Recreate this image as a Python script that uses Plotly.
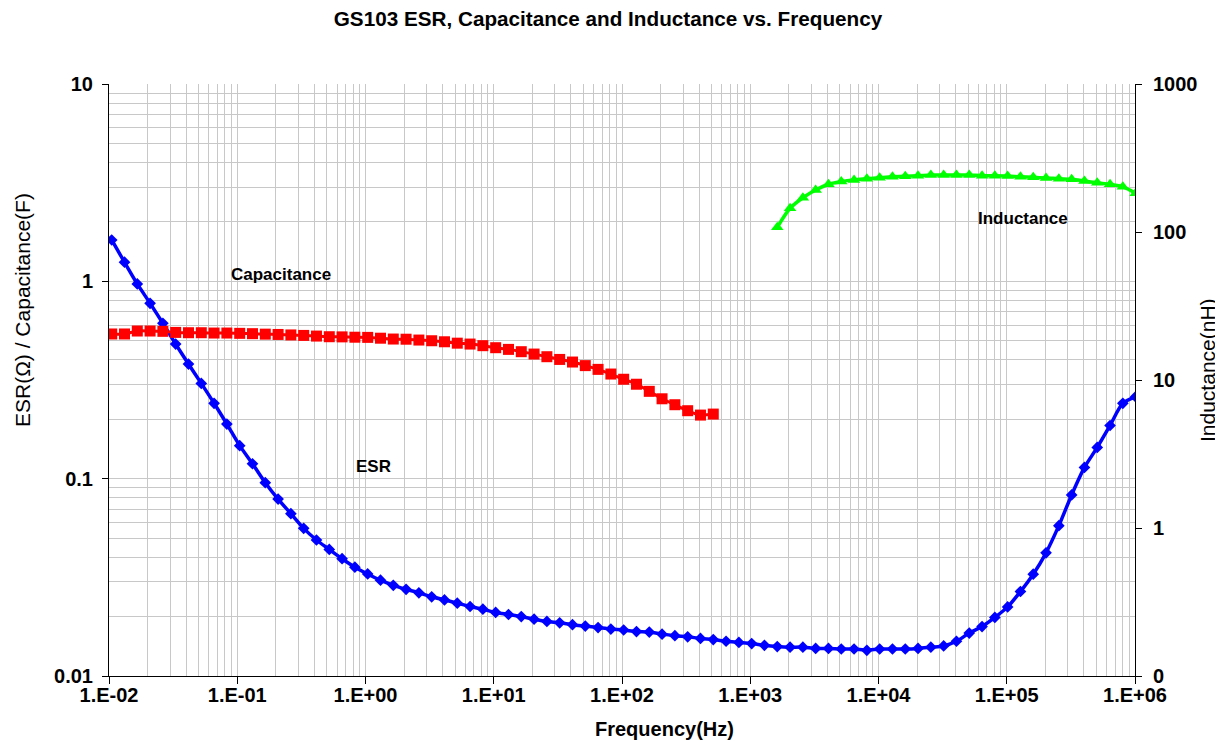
import math
import plotly.graph_objects as go

# ---------------- data ----------------
FREQ = [
    0.0105, 0.01321, 0.01662, 0.02091, 0.02631, 0.03311, 0.04166, 0.05243, 0.06597, 0.0830,
    0.1045, 0.1315, 0.1654, 0.2082, 0.2619, 0.3296, 0.4147, 0.5219, 0.6567, 0.8264,
    1.040, 1.309, 1.647, 2.072, 2.608, 3.281, 4.129, 5.196, 6.538, 8.227,
    10.35, 13.03, 16.39, 20.63, 25.96, 32.66, 41.10, 51.72, 65.08, 81.89,
    103.0, 129.7, 163.2, 205.3, 258.4, 325.1, 409.1, 514.8, 647.8, 815.2,
    1026, 1290, 1624, 2044, 2572, 3236, 4072, 5124, 6448, 8114,
    10210, 12850, 16170, 20340, 25600, 32210, 40530, 51000, 64180, 80760,
    101600, 127900, 160900, 202500, 254800, 320600, 403500, 507700, 638900, 803900,
    1012000,
]

ESR = [
    1.62, 1.25, 0.97, 0.774, 0.613, 0.481, 0.381, 0.304, 0.241, 0.189,
    0.147, 0.119, 0.0954, 0.0788, 0.0665, 0.0560, 0.0489, 0.0438, 0.0393, 0.0356,
    0.0329, 0.0306, 0.0288, 0.0275, 0.0264, 0.0252, 0.0243, 0.0234, 0.0225, 0.0218,
    0.0210, 0.0205, 0.0200, 0.0194, 0.0189, 0.0186, 0.0182, 0.0179, 0.0176, 0.0173,
    0.0171, 0.0168, 0.0167, 0.0163, 0.0160, 0.0158, 0.0155, 0.0153, 0.0150, 0.0148,
    0.0146, 0.0143, 0.0141, 0.0140, 0.0140, 0.0138, 0.0138, 0.0137, 0.0137, 0.0135,
    0.0137, 0.0137, 0.0137, 0.0138, 0.0140, 0.0142, 0.0150, 0.0165, 0.0178, 0.0198,
    0.0224, 0.0268, 0.0328, 0.0421, 0.0578, 0.0827, 0.114, 0.144, 0.186, 0.241,
    0.260,
]

CAP = [
    0.541, 0.541, 0.560, 0.560, 0.558, 0.551, 0.549, 0.549, 0.547, 0.547,
    0.545, 0.543, 0.540, 0.538, 0.535, 0.532, 0.528, 0.524, 0.523, 0.521,
    0.520, 0.515, 0.510, 0.509, 0.504, 0.500, 0.494, 0.486, 0.481, 0.472,
    0.461, 0.452, 0.440, 0.428, 0.415, 0.402, 0.390, 0.374, 0.358, 0.339,
    0.319, 0.301, 0.277, 0.254, 0.237, 0.221, 0.210, 0.2125,
]

IND = [
    107.6, 144.6, 170.5, 192.2, 210.1, 219.0, 225.0, 229.0, 233.0, 236.0,
    238.0, 240.0, 243.0, 243.0, 243.0, 243.0, 240.0, 240.0, 239.0, 236.0,
    234.0, 232.0, 229.0, 227.0, 221.0, 215.0, 210.0, 202.0, 183.0,
]

CAP_FREQ = FREQ[:len(CAP)]
IND_FREQ = FREQ[len(FREQ) - len(IND):]

X_TICKS = [1e-2, 1e-1, 1e0, 1e1, 1e2, 1e3, 1e4, 1e5, 1e6]
X_TICKTEXT = ["1.E-02", "1.E-01", "1.E+00", "1.E+01", "1.E+02",
              "1.E+03", "1.E+04", "1.E+05", "1.E+06"]
Y_TICKS = [0.01, 0.1, 1, 10]
Y_TICKTEXT = ["0.01", "0.1", "1", "10"]
Y2_TICKS = [0.1, 1, 10, 100, 1000]
Y2_TICKTEXT = ["0", "1", "10", "100", "1000"]

# minor gridline positions (2..9 in each decade)
x_minor = [m * 10.0 ** d for d in range(-2, 6) for m in range(2, 10)]
y_minor = [m * 10.0 ** d for d in range(-2, 1) for m in range(2, 10)]

FONT = "Liberation Sans, Arial, sans-serif"
GRID = "#c8c8c8"
OFF = 8                      # the page body adds an 8px margin around the figure
W, H = 1223 - OFF, 741 - OFF
L, T = 109 - OFF, 84 - OFF
PW, PH = 1026, 592
R, B = W - L - PW, H - T - PH


def px_x(page_x):
    return (page_x - OFF - L) / PW


def px_y(page_y):
    return (T + PH - (page_y - OFF)) / PH


fig = go.Figure()

fig.add_trace(go.Scatter(
    x=FREQ, y=ESR, name="ESR", mode="lines+markers",
    line=dict(color="#0000FF", width=3.5, shape="spline", smoothing=0.8),
    marker=dict(symbol="diamond", size=9, color="#0000FF"),
    yaxis="y",
))
fig.add_trace(go.Scatter(
    x=CAP_FREQ, y=CAP, name="Capacitance", mode="lines+markers",
    line=dict(color="#FF0000", width=3, shape="spline", smoothing=0.8),
    marker=dict(symbol="square", size=11, color="#FF0000"),
    yaxis="y",
))
fig.add_trace(go.Scatter(
    x=IND_FREQ, y=IND, name="Inductance", mode="lines+markers",
    line=dict(color="#00FF00", width=3.5, shape="spline", smoothing=0.8),
    marker=dict(symbol="triangle-up", size=11, color="#00FF00"),
    yaxis="y2",
))

fig.update_layout(
    width=W, height=H,
    margin=dict(l=L, r=R, t=T, b=B, autoexpand=False),
    plot_bgcolor="white", paper_bgcolor="white",
    showlegend=False,
    font=dict(family=FONT, color="black"),
    title=dict(
        text="GS103 ESR, Capacitance and Inductance vs. Frequency",
        x=(608 - OFF) / W, xanchor="center", y=1 - 11 / H, yanchor="middle",
        font=dict(family=FONT, size=20.7, color="black", weight="bold"),
    ),
    xaxis=dict(
        type="log", range=[-2, 6], automargin=False,
        tickmode="array", tickvals=X_TICKS, ticktext=X_TICKTEXT,
        tickfont=dict(family=FONT, size=20, color="black", weight="bold"),
        ticks="outside", ticklen=7, tickcolor="black", tickwidth=1,
        ticklabelstandoff=-6,
        showline=True, linecolor="black", linewidth=1,
        showgrid=True, gridcolor=GRID, gridwidth=1, zeroline=False,
        minor=dict(tickvals=x_minor, showgrid=True, gridcolor=GRID, gridwidth=1, ticks=""),
    ),
    yaxis=dict(
        type="log", range=[-2, 1], automargin=False,
        tickmode="array", tickvals=Y_TICKS, ticktext=Y_TICKTEXT,
        tickfont=dict(family=FONT, size=20, color="black", weight="bold"),
        ticks="outside", ticklen=6, tickcolor="black", tickwidth=1,
        ticklabelstandoff=5,
        showline=True, linecolor="black", linewidth=1,
        showgrid=True, gridcolor=GRID, gridwidth=1, zeroline=False,
        minor=dict(tickvals=y_minor, showgrid=True, gridcolor=GRID, gridwidth=1, ticks=""),
    ),
    yaxis2=dict(
        type="log", range=[-1, 3], overlaying="y", side="right", anchor="x",
        automargin=False,
        tickmode="array", tickvals=Y2_TICKS, ticktext=Y2_TICKTEXT,
        tickfont=dict(family=FONT, size=20, color="black", weight="bold"),
        ticks="outside", ticklen=6, tickcolor="black", tickwidth=1,
        ticklabelstandoff=7,
        showline=True, linecolor="black", linewidth=1,
        showgrid=False, zeroline=False,
    ),
)

# axis titles (positions given as page pixels of the reference)
AXIS_TITLES = [
    ("<b>Frequency(Hz)</b>", 664, 729, 0, 20),
    ("ESR(Ω) / Capacitance(F)", 22, 310, -90, 21),
    ("Inductance(nH)", 1207, 370, -90, 21),
]
for text, pgx, pgy, ang, sz in AXIS_TITLES:
    fig.add_annotation(
        x=px_x(pgx), y=px_y(pgy), xref="paper", yref="paper", text=text, textangle=ang,
        showarrow=False, xanchor="center", yanchor="middle",
        font=dict(family=FONT, size=sz, color="black"),
    )

LABELS = [
    ("Capacitance", 0.219, 1.077),
    ("ESR", 1.16, 0.1146),
    ("Inductance", 1.34e5, 2.07),
]
for text, fx, fy in LABELS:
    fig.add_annotation(
        x=math.log10(fx), y=math.log10(fy), xref="x", yref="y",
        text=text, showarrow=False,
        font=dict(family=FONT, size=17, color="black", weight="bold"),
    )

fig.write_html("out.html")
